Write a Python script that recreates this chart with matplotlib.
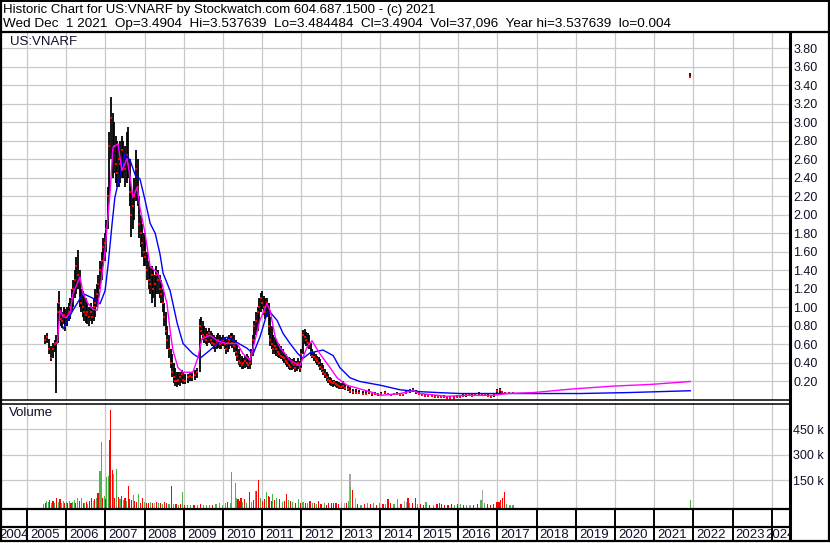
import matplotlib
matplotlib.use('Agg')
import matplotlib.pyplot as plt
from matplotlib.lines import Line2D

plt.rcParams['font.family'] = ['Liberation Sans', 'DejaVu Sans']

# ---- price bars (decimal year, high, low, close) ----
bar_dates = [2005.45, 2005.50, 2005.55, 2005.60, 2005.65, 2005.70, 2005.74, 2005.78, 2005.82, 2005.86, 2005.90, 2005.94, 2005.98,
             2006.02, 2006.06, 2006.10, 2006.14, 2006.18, 2006.22, 2006.26, 2006.30, 2006.34, 2006.38, 2006.42, 2006.46, 2006.50,
             2006.54, 2006.58, 2006.62, 2006.66, 2006.70, 2006.74, 2006.78, 2006.82, 2006.86, 2006.90, 2006.94, 2006.98,
             2007.02, 2007.06, 2007.10, 2007.14, 2007.18, 2007.22, 2007.26, 2007.30, 2007.34, 2007.38, 2007.42, 2007.46, 2007.50,
             2007.54, 2007.58, 2007.62, 2007.66, 2007.70, 2007.74, 2007.78, 2007.82, 2007.86, 2007.90, 2007.94, 2007.98,
             2008.02, 2008.06, 2008.10, 2008.14, 2008.18, 2008.22, 2008.26, 2008.30, 2008.34, 2008.38, 2008.42, 2008.46, 2008.50,
             2008.54, 2008.58, 2008.62, 2008.66, 2008.70, 2008.74, 2008.78, 2008.82, 2008.86, 2008.90, 2008.94, 2008.98,
             2009.04, 2009.10, 2009.16, 2009.22, 2009.28, 2009.34, 2009.40, 2009.44, 2009.48, 2009.52, 2009.56, 2009.60, 2009.64,
             2009.68, 2009.72, 2009.76, 2009.80, 2009.84, 2009.88, 2009.92, 2009.96,
             2010.00, 2010.04, 2010.08, 2010.12, 2010.16, 2010.20, 2010.24, 2010.28, 2010.32, 2010.36, 2010.40, 2010.44, 2010.48,
             2010.52, 2010.56, 2010.60, 2010.64, 2010.68, 2010.72, 2010.76, 2010.80, 2010.84, 2010.88, 2010.92, 2010.96,
             2011.00, 2011.04, 2011.08, 2011.12, 2011.16, 2011.20, 2011.24, 2011.28, 2011.32, 2011.36, 2011.40, 2011.44, 2011.48,
             2011.52, 2011.56, 2011.60, 2011.64, 2011.68, 2011.72, 2011.76, 2011.80, 2011.84, 2011.88, 2011.92, 2011.96,
             2012.00, 2012.04, 2012.08, 2012.12, 2012.16, 2012.20, 2012.24, 2012.28, 2012.32, 2012.36, 2012.40, 2012.44, 2012.48,
             2012.52, 2012.56, 2012.60, 2012.64, 2012.68, 2012.72, 2012.76, 2012.80, 2012.84, 2012.88, 2012.92, 2012.96,
             2013.00, 2013.06, 2013.12, 2013.18, 2013.24, 2013.32, 2013.40, 2013.48, 2013.56, 2013.64, 2013.72, 2013.80, 2013.88, 2013.96,
             2014.04, 2014.12, 2014.20, 2014.28, 2014.36, 2014.44, 2014.52, 2014.60, 2014.68, 2014.76, 2014.84, 2014.92,
             2015.00, 2015.08, 2015.16, 2015.24, 2015.32, 2015.40, 2015.48, 2015.56, 2015.64, 2015.72, 2015.80, 2015.88, 2015.96,
             2016.04, 2016.12, 2016.20, 2016.28, 2016.36, 2016.44, 2016.52, 2016.60, 2016.68, 2016.76, 2016.84, 2016.92,
             2017.00, 2017.06, 2017.12, 2017.20, 2017.30, 2017.40,
             2021.92]
bar_high = [.70, .72, .66, .58, .62, .65, .70, 1.05, 1.18, 1.00, .95, 1.00, .98,
            1.00, 1.05, 1.10, 1.20, 1.30, 1.40, 1.55, 1.62, 1.40, 1.20, 1.18, 1.15, 1.10,
            1.05, 1.00, 1.05, 1.00, 1.10, 1.20, 1.25, 1.35, 1.50, 1.60, 1.75, 1.80,
            1.95, 2.30, 2.90, 3.27, 3.10, 3.00, 2.85, 2.80, 2.75, 2.80, 2.85, 2.80, 2.75,
            2.90, 2.95, 2.60, 2.30, 2.25, 2.40, 2.70, 2.60, 2.20, 2.00, 1.90, 1.80,
            1.80, 1.60, 1.50, 1.45, 1.45, 1.40, 1.35, 1.45, 1.40, 1.35, 1.30, 1.20, 1.05,
            .95, .80, .70, .55, .50, .40, .35, .30, .30, .30, .32, .30,
            .28, .28, .30, .30, .32, .35, .88, .90, .85, .80, .78, .75, .78,
            .75, .72, .70, .68, .70, .72, .70, .68,
            .70, .68, .66, .68, .70, .72, .72, .70, .65, .60, .55, .50, .48,
            .45, .48, .50, .48, .45, .55, .70, .85, .95, 1.00, 1.10, 1.16,
            1.18, 1.12, 1.10, 1.10, 1.05, .90, .80, .70, .68, .65, .62, .60, .58,
            .55, .52, .50, .48, .46, .45, .44, .45, .42, .42, .45, .42,
            .55, .76, .77, .74, .72, .70, .62, .55, .52, .50, .48, .46, .44,
            .40, .38, .34, .30, .28, .25, .24, .22, .22, .21, .20, .19,
            .18, .20, .17, .16, .14, .12, .12, .11, .10, .11, .12, .08, .09, .08,
            .09, .10, .08, .07, .08, .09, .08, .07, .10, .12, .13, .11,
            .09, .07, .06, .05, .06, .05, .05, .04, .05, .04, .04, .04, .05,
            .05, .06, .06, .07, .06, .08, .09, .08, .07, .06, .05, .06,
            .12, .13, .10, .09, .09, .09,
            3.537639]
bar_low = [.60, .62, .50, .42, .45, .52, .08, .62, .85, .80, .78, .82, .75,
           .80, .85, .88, .95, 1.00, 1.10, 1.15, 1.20, 1.00, .95, .90, .85, .83,
           .82, .80, .85, .82, .85, .90, 1.00, 1.10, 1.20, 1.30, 1.45, 1.50,
           1.60, 1.85, 2.20, 2.60, 2.40, 2.45, 2.35, 2.30, 2.30, 2.35, 2.40, 2.40, 2.30,
           2.35, 2.40, 2.10, 1.76, 1.85, 1.95, 2.15, 2.10, 1.75, 1.65, 1.55, 1.45,
           1.45, 1.30, 1.20, 1.15, 1.05, 1.10, 1.00, 1.15, 1.15, 1.10, 1.05, .95, .80,
           .70, .55, .45, .35, .25, .18, .15, .14, .16, .15, .18, .17,
           .17, .18, .20, .20, .22, .24, .30, .70, .65, .62, .60, .58, .62,
           .60, .58, .55, .52, .55, .56, .55, .55,
           .58, .55, .50, .52, .55, .58, .56, .52, .48, .42, .38, .36, .34,
           .33, .35, .36, .34, .33, .38, .48, .60, .70, .75, .85, .95,
           .98, .92, .88, .90, .70, .58, .55, .50, .50, .48, .46, .45, .44,
           .42, .40, .38, .36, .34, .32, .32, .33, .30, .31, .33, .30,
           .35, .50, .60, .58, .56, .55, .48, .45, .42, .40, .38, .36, .32,
           .30, .27, .24, .21, .18, .16, .15, .14, .15, .14, .13, .12,
           .12, .12, .11, .10, .08, .07, .06, .06, .05, .05, .06, .04, .05, .04,
           .05, .06, .05, .04, .05, .05, .04, .04, .06, .08, .09, .07,
           .05, .04, .03, .03, .03, .02, .02, .02, .02, .01, .01, .01, .02,
           .02, .03, .03, .04, .03, .04, .06, .05, .04, .03, .02, .03,
           .07, .08, .07, .07, .07, .06,
           3.484484]
bar_close = [.65, .68, .55, .45, .55, .60, .62, .95, 1.05, .88, .85, .92, .80,
             .90, .95, 1.00, 1.10, 1.20, 1.30, 1.45, 1.35, 1.10, 1.05, 1.00, .95, .92,
             .95, .90, .95, .90, 1.00, 1.05, 1.15, 1.25, 1.40, 1.50, 1.65, 1.70,
             1.85, 2.20, 2.75, 3.05, 2.70, 2.75, 2.55, 2.45, 2.60, 2.55, 2.70, 2.55, 2.50,
             2.65, 2.55, 2.25, 2.00, 2.10, 2.20, 2.50, 2.30, 1.90, 1.80, 1.70, 1.60,
             1.55, 1.40, 1.30, 1.25, 1.35, 1.20, 1.25, 1.35, 1.30, 1.20, 1.15, 1.05, .90,
             .75, .65, .55, .40, .30, .25, .20, .20, .22, .25, .28, .22,
             .20, .25, .26, .25, .27, .30, .80, .75, .70, .68, .65, .70, .72,
             .65, .62, .60, .58, .62, .65, .60, .62,
             .65, .60, .55, .62, .65, .68, .62, .58, .52, .48, .42, .40, .38,
             .40, .42, .40, .38, .40, .50, .65, .80, .85, .95, 1.00, 1.10,
             1.05, 1.00, .95, 1.05, .80, .65, .60, .55, .58, .55, .52, .50, .48,
             .46, .45, .42, .40, .38, .36, .40, .38, .35, .38, .40, .35,
             .50, .70, .68, .65, .62, .60, .52, .48, .46, .44, .42, .40, .36,
             .34, .30, .28, .25, .22, .20, .19, .18, .19, .17, .16, .15,
             .14, .15, .13, .12, .10, .09, .08, .08, .07, .06, .09, .06, .07, .06,
             .07, .08, .06, .05, .06, .07, .05, .05, .08, .10, .11, .09,
             .06, .05, .04, .04, .04, .03, .03, .03, .03, .02, .02, .02, .03,
             .03, .04, .05, .05, .04, .06, .07, .06, .05, .04, .03, .05,
             .10, .11, .09, .08, .08, .08,
             3.4904]

# ---- moving averages (magenta = short, blue = long) ----
fast_dates = [2005.77, 2005.84, 2005.92, 2006.00, 2006.10, 2006.17, 2006.35, 2006.43, 2006.56, 2006.68, 2006.79,
              2006.86, 2006.99, 2007.12, 2007.19, 2007.32, 2007.42, 2007.55, 2007.63, 2007.70, 2007.81, 2007.88,
              2008.01, 2008.14, 2008.32, 2008.44, 2008.57, 2008.65, 2008.72, 2008.85, 2008.98, 2009.23, 2009.36,
              2009.46, 2009.67, 2009.85, 2010.10, 2010.36, 2010.51, 2010.69, 2010.80, 2010.94, 2011.12, 2011.20,
              2011.33, 2011.45, 2011.71, 2011.96, 2012.14, 2012.27, 2012.47, 2012.73, 2012.91, 2013.16, 2013.49,
              2013.83, 2014.01, 2014.52, 2014.85, 2015.03, 2015.71, 2016.22, 2016.89, 2017.24, 2017.91, 2018.93,
              2019.95, 2020.97, 2021.92]
fast_vals = [0.61, 0.97, 0.90, 0.89, 0.95, 1.15, 1.33, 1.15, 1.04, 0.98, 0.97,
             1.18, 1.62, 2.26, 2.73, 2.77, 2.48, 2.61, 2.41, 2.19, 2.30, 2.08,
             1.80, 1.44, 1.38, 1.26, 1.04, 0.75, 0.54, 0.35, 0.30, 0.30, 0.46,
             0.66, 0.70, 0.64, 0.61, 0.61, 0.50, 0.43, 0.62, 0.86, 1.04, 0.97,
             0.68, 0.57, 0.43, 0.37, 0.57, 0.64, 0.50, 0.35, 0.24, 0.16, 0.12,
             0.08, 0.05, 0.07, 0.10, 0.07, 0.04, 0.05, 0.05, 0.07, 0.08, 0.12,
             0.15, 0.17, 0.20]
slow_dates = [2005.92, 2006.17, 2006.43, 2006.68, 2006.86, 2006.99, 2007.07, 2007.17, 2007.24, 2007.32, 2007.50,
              2007.63, 2007.76, 2007.88, 2008.01, 2008.14, 2008.27, 2008.39, 2008.47, 2008.65, 2008.83, 2008.98,
              2009.23, 2009.41, 2009.67, 2009.92, 2010.10, 2010.36, 2010.61, 2010.77, 2010.94, 2011.12, 2011.20,
              2011.38, 2011.53, 2011.71, 2011.91, 2012.04, 2012.22, 2012.55, 2012.81, 2012.98, 2013.24, 2013.49,
              2014.01, 2014.52, 2015.03, 2015.50, 2016.05, 2017.07, 2018.09, 2019.11, 2020.31, 2021.92]
slow_vals = [0.77, 0.97, 1.15, 1.10, 1.04, 1.18, 1.47, 1.91, 2.19, 2.34, 2.66,
             2.59, 2.43, 2.39, 2.16, 1.91, 1.80, 1.58, 1.37, 1.18, 0.83, 0.61,
             0.50, 0.45, 0.54, 0.64, 0.68, 0.62, 0.56, 0.50, 0.68, 0.93, 0.95,
             0.86, 0.72, 0.61, 0.50, 0.45, 0.51, 0.54, 0.48, 0.35, 0.24, 0.20,
             0.16, 0.11, 0.09, 0.08, 0.07, 0.07, 0.07, 0.07, 0.08, 0.10]

# ---- volume (thousands of shares), colour code g=up r=down n=unchanged ----
vol_dates = [2005.42, 2005.46, 2005.50, 2005.54, 2005.58, 2005.62, 2005.66, 2005.70, 2005.76, 2005.80, 2005.84, 2005.88,
             2005.92, 2005.96, 2006.00, 2006.04, 2006.08, 2006.12, 2006.16, 2006.20, 2006.24, 2006.29, 2006.33, 2006.39,
             2006.43, 2006.47, 2006.51, 2006.55, 2006.60, 2006.65, 2006.69, 2006.73, 2006.77, 2006.81, 2006.84, 2006.86,
             2006.90, 2006.93, 2006.97, 2007.00, 2007.03, 2007.07, 2007.10, 2007.13, 2007.17, 2007.20, 2007.24, 2007.29,
             2007.33, 2007.37, 2007.41, 2007.45, 2007.50, 2007.54, 2007.58, 2007.62, 2007.66, 2007.71, 2007.75, 2007.79,
             2007.84, 2007.89, 2007.95, 2008.00, 2008.05, 2008.10, 2008.15, 2008.20, 2008.25, 2008.30, 2008.35, 2008.40,
             2008.45, 2008.50, 2008.56, 2008.62, 2008.69, 2008.74, 2008.80, 2008.86, 2008.92, 2008.97, 2009.02, 2009.10,
             2009.18, 2009.26, 2009.34, 2009.42, 2009.50, 2009.58, 2009.66, 2009.74, 2009.82, 2009.90, 2009.98, 2010.06,
             2010.12, 2010.18, 2010.22, 2010.31, 2010.34, 2010.38, 2010.42, 2010.46, 2010.50, 2010.55, 2010.60, 2010.67,
             2010.72, 2010.77, 2010.82, 2010.86, 2010.91, 2010.95, 2011.00, 2011.05, 2011.11, 2011.15, 2011.19, 2011.23,
             2011.27, 2011.32, 2011.37, 2011.45, 2011.52, 2011.56, 2011.61, 2011.66, 2011.72, 2011.78, 2011.84, 2011.92,
             2011.97, 2012.04, 2012.10, 2012.16, 2012.22, 2012.28, 2012.34, 2012.39, 2012.43, 2012.50, 2012.58, 2012.64,
             2012.70, 2012.76, 2012.82, 2012.88, 2012.94, 2013.03, 2013.10, 2013.16, 2013.21, 2013.24, 2013.26, 2013.30,
             2013.37, 2013.44, 2013.52, 2013.60, 2013.68, 2013.76, 2013.84, 2013.92, 2014.00, 2014.08, 2014.15, 2014.21,
             2014.28, 2014.36, 2014.46, 2014.54, 2014.64, 2014.69, 2014.72, 2014.76, 2014.84, 2014.90, 2014.96, 2015.04,
             2015.12, 2015.18, 2015.26, 2015.36, 2015.46, 2015.52, 2015.58, 2015.66, 2015.74, 2015.82, 2015.90, 2015.98,
             2016.06, 2016.14, 2016.22, 2016.30, 2016.40, 2016.50, 2016.58, 2016.63, 2016.68, 2016.74, 2016.82, 2016.90,
             2016.99, 2017.04, 2017.08, 2017.12, 2017.19, 2017.24, 2017.32, 2017.40, 2021.92]
vol_k = [12, 20, 28, 22, 35, 15, 30, 20, 50, 25, 40, 18,
         30, 15, 25, 20, 30, 15, 25, 35, 20, 50, 30, 45,
         20, 15, 25, 10, 30, 50, 30, 40, 45, 75, 115, 205,
         375, 50, 60, 40, 170, 175, 390, 567, 210, 190, 50, 215,
         55, 40, 60, 35, 45, 30, 120, 40, 35, 65, 30, 25,
         70, 20, 50, 25, 20, 15, 25, 15, 20, 25, 15, 20,
         10, 25, 15, 10, 115, 12, 10, 8, 10, 80, 8, 6,
         5, 8, 6, 10, 5, 6, 4, 8, 10, 15, 8, 20,
         25, 15, 197, 138, 50, 40, 30, 45, 25, 40, 20, 80,
         25, 35, 90, 90, 150, 45, 30, 40, 80, 60, 55, 30,
         70, 35, 45, 40, 25, 30, 70, 35, 30, 25, 15, 40,
         20, 25, 15, 20, 30, 15, 20, 10, 30, 12, 15, 8,
         18, 15, 20, 15, 12, 25, 20, 15, 30, 190, 110, 95,
         50, 10, 8, 12, 20, 10, 15, 8, 20, 10, 12, 40,
         15, 10, 40, 12, 30, 25, 45, 20, 15, 50, 12, 10,
         8, 25, 8, 6, 10, 20, 10, 6, 8, 10, 8, 10,
         12, 8, 6, 4, 8, 10, 35, 95, 15, 10, 8, 12,
         25, 25, 35, 50, 80, 10, 5, 5, 37]
vol_code = list('grggrgrgrgrg'
                'grgrgrggrgrg'
                'rgrgrrnrgrrg'
                'grgrggrrrgrg'
                'rgrgrgrrrgrr'
                'grrgrrgrnrgr'
                'grrgrgrgrgrg'
                'grgrgggrgggg'
                'rggggrrrgrgr'
                'grgrrgrrgrrr'
                'grgrgrrgrgrg'
                'rgrgrgrgrrgr'
                'rrrrrnnrgngr'
                'nrgrgrgrgrgr'
                'rggrnnrgrrgr'
                'rgrgrrrrrrgr'
                'grgnrrgngrrr'
                'rrrrrgggg')

years = [2004, 2005, 2006, 2007, 2008, 2009, 2010, 2011, 2012, 2013, 2014,
         2015, 2016, 2017, 2018, 2019, 2020, 2021, 2022, 2023, 2024]
price_ticks = [0.2, 0.4, 0.6, 0.8, 1.0, 1.2, 1.4, 1.6, 1.8, 2.0, 2.2,
               2.4, 2.6, 2.8, 3.0, 3.2, 3.4, 3.6, 3.8]
vol_ticks = [150000, 300000, 450000]
vol_labels = ['150 k', '300 k', '450 k']

W, H = 830, 543
fig = plt.figure(figsize=(W / 100, H / 100), dpi=100)
fig.patch.set_facecolor('white')


def rect(x0, y0, x1, y1):
    return [x0 / W, 1 - y1 / H, (x1 - x0) / W, (y1 - y0) / H]


def hline(y, x0, x1, lw):
    fig.add_artist(Line2D([x0 / W, x1 / W], [1 - y / H, 1 - y / H], transform=fig.transFigure,
                          color='black', lw=lw, solid_capstyle='butt'))


def vline(x, y0, y1, lw):
    fig.add_artist(Line2D([x / W, x / W], [1 - y0 / H, 1 - y1 / H], transform=fig.transFigure,
                          color='black', lw=lw, solid_capstyle='butt'))


XMIN, XMAX = 2004.36, 2024.44
txt = '#10102a'
grid_c = '#c8c8c8'

ax1 = fig.add_axes(rect(2, 32, 789, 400))
ax2 = fig.add_axes(rect(2, 403, 789, 509))
ax3 = fig.add_axes(rect(2, 509, 789, 541))

for ax in (ax1, ax2):
    ax.set_xlim(XMIN, XMAX)
    ax.set_xticks(years[1:])
    ax.grid(True, color=grid_c, lw=0.9)
    ax.set_axisbelow(True)
    ax.tick_params(length=0, labelbottom=False, labelleft=False, labelright=True,
                   pad=3, labelsize=9, labelcolor=txt)
    for s in ax.spines.values():
        s.set_visible(False)

# price panel
ax1.set_ylim(0, 3.978)
ax1.set_yticks(price_ticks)
ax1.set_yticklabels(['%.2f' % t for t in price_ticks])
ax1.vlines(bar_dates, bar_low, bar_high, color='black', lw=1.3, zorder=2)
ax1.plot(bar_dates, bar_close, 's', color='#ff0000', ms=2.0, mew=0, zorder=3)
ax1.plot(slow_dates, slow_vals, color='#0000ff', lw=1.0, zorder=4)
ax1.plot(fast_dates, fast_vals, color='#ff00ff', lw=1.0, zorder=5)
ax1.text(8 / 787, 1 - 10 / 368, 'US:VNARF', transform=ax1.transAxes, fontsize=9.5,
         color=txt, va='center', ha='left')

# volume panel
vol_floor = -17600
ax2.set_ylim(vol_floor, 605600)
ax2.set_yticks(vol_ticks)
ax2.set_yticklabels(vol_labels)
cmap = {'g': '#4db34d', 'r': '#ff0000', 'n': '#a6a6a6'}
ax2.bar(vol_dates, [v * 1000 - vol_floor for v in vol_k], bottom=vol_floor, width=0.03,
        color=[cmap[c] for c in vol_code], lw=0, zorder=2)
ax2.text(7 / 787, 1 - 10 / 106, 'Volume', transform=ax2.transAxes, fontsize=9.5,
         color=txt, va='center', ha='left')

# year strip
ax3.set_xlim(XMIN, XMAX)
ax3.set_ylim(0, 32)
ax3.axis('off')
ax3.vlines(years[1:], 0, 32, color='black', lw=1.4)
for y in years:
    xpos = y + 0.08
    if y == years[0]:
        xpos = XMIN - 0.08
    if y == years[-1]:
        xpos = y - 0.17
    ax3.text(xpos, 6.5, str(y), fontsize=9.5, color=txt,
             va='center', ha='left', clip_on=True)

# frames
hline(0.5, 0, W, 1.4)
hline(31.5, 0, W, 1.6)
hline(400, 0, 789, 1.1)
hline(403.5, 0, 789, 1.1)
hline(509, 0, 789, 1.6)
hline(527, 0, 789, 1.6)
hline(541, 0, W, 1.6)
vline(1, 0, 541, 1.6)
vline(828.5, 0, 541, 1.6)
vline(790, 31, 541, 2.2)

# header
fig.text(3 / W, 1 - 13.5 / H, 'Historic Chart for US:VNARF by Stockwatch.com 604.687.1500 - (c) 2021',
         fontsize=9.5, color='black', va='baseline', ha='left')
fig.text(3 / W, 1 - 27 / H,
         'Wed Dec  1 2021  Op=3.4904  Hi=3.537639  Lo=3.484484  Cl=3.4904  Vol=37,096  Year hi=3.537639  lo=0.004',
         fontsize=9.7, color='black', va='baseline', ha='left')

fig.savefig('out.png', dpi=100, facecolor='white')
